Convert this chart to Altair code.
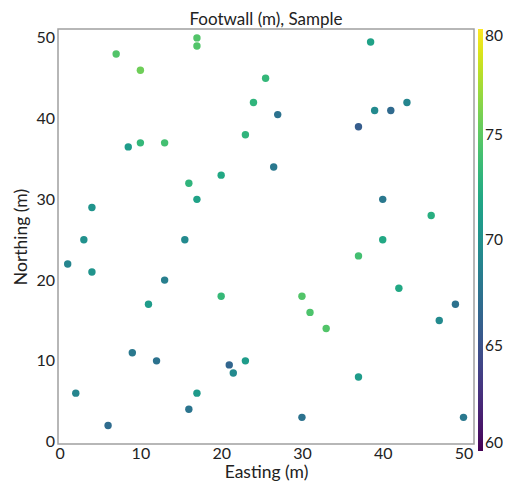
import altair as alt
import pandas as pd

easting = [17, 17, 7, 10, 24, 23, 8.5, 10, 13, 20, 16, 17, 4, 3, 15.5,
           38.5, 25.5, 27, 39, 41, 43, 37, 26.5, 40, 46, 40,
           1, 4, 13, 20, 11, 9, 12, 21, 21.5, 23, 2, 17, 16, 6,
           37, 42, 30, 31, 33, 49, 47, 37, 30, 50]
northing = [50, 49, 48, 46, 42, 38, 36.5, 37, 37, 33, 32, 30, 29, 25, 25,
            49.5, 45, 40.5, 41, 41, 42, 39, 34, 30, 28, 25,
            22, 21, 20, 18, 17, 11, 10, 9.5, 8.5, 10, 6, 6, 4, 2,
            23, 19, 18, 16, 14, 17, 15, 8, 3, 3]
footwall = [74.6, 74.6, 74.6, 75.6, 73, 73, 71, 73.3, 74.0, 72, 73, 71.5, 70.3, 70, 69.5,
            71.5, 73.3, 67.5, 69.5, 66.8, 69, 65.8, 68, 68, 72.5, 72,
            69, 70.3, 68.5, 73.4, 71, 68, 67.5, 66.5, 69.5, 71, 69, 70.8, 67.7, 67,
            74.0, 72, 74.6, 74.4, 74.6, 67.5, 69.5, 71, 67.5, 68]

df = pd.DataFrame({"Easting": easting, "Northing": northing, "Footwall": footwall})

FONT = "Lato"
TXT = "#222"

chart = alt.Chart(df).mark_circle(size=55, opacity=1).encode(
    x=alt.X("Easting:Q", title="Easting (m)",
            scale=alt.Scale(domain=[-0.2, 51.3], nice=False, zero=False),
            axis=alt.Axis(values=[0, 10, 20, 30, 40, 50], grid=False, domain=False,
                          ticks=False, labelFontSize=16, titleFontSize=17.5,
                          labelPadding=1, titlePadding=2, labelColor=TXT,
                          titleColor=TXT, titleFontWeight="normal")),
    y=alt.Y("Northing:Q", title="Northing (m)",
            scale=alt.Scale(domain=[-0.3, 51.1], nice=False, zero=False),
            axis=alt.Axis(values=[0, 10, 20, 30, 40, 50], grid=False, domain=False,
                          ticks=False, labelFontSize=16, titleFontSize=17.5,
                          labelPadding=3.5, titlePadding=5, labelColor=TXT,
                          titleColor=TXT, titleFontWeight="normal")),
    color=alt.Color("Footwall:Q",
                    scale=alt.Scale(scheme="viridis", domain=[60, 80]),
                    legend=alt.Legend(title=None, values=[60, 65, 70, 75, 80],
                                      gradientLength=422, gradientThickness=5,
                                      labelFontSize=15.5, labelColor=TXT,
                                      offset=4, padding=0, labelOffset=2,
                                      gradientStrokeWidth=0)),
).properties(
    width=495,
    height=473,
    autosize=alt.AutoSizeParams(type="fit", contains="padding"),
    title=alt.TitleParams("Footwall (m), Sample", fontSize=17, fontWeight="normal",
                          color=TXT, offset=0),
    padding={"left": 4, "top": 3, "right": 0, "bottom": 0},
).configure(font=FONT).configure_view(stroke="#a0a0a0", strokeWidth=1.5)

chart.save("out.html", embed_options={"renderer": "svg", "actions": False})
